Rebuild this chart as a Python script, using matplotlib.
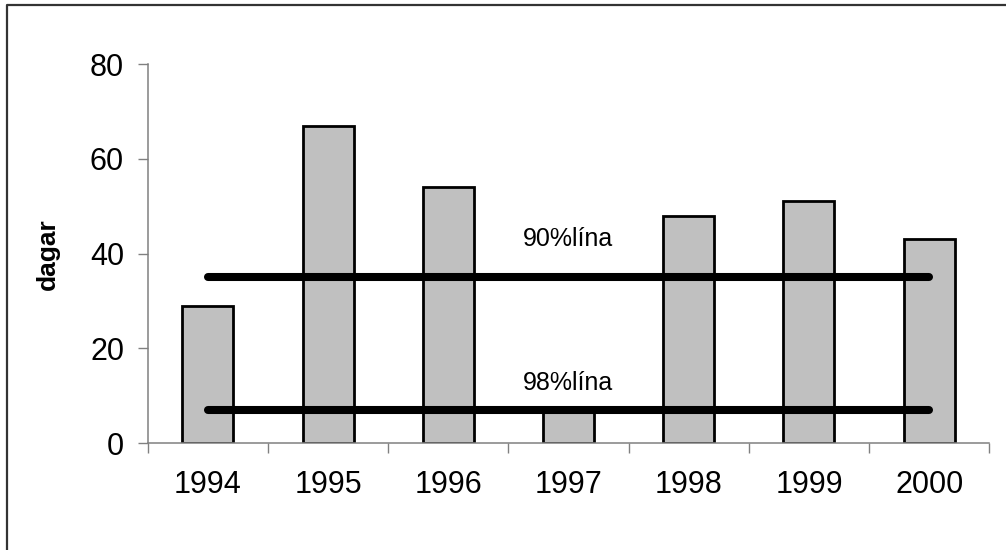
import matplotlib
matplotlib.use("Agg")
import matplotlib.pyplot as plt
from matplotlib.lines import Line2D

years = ["1994", "1995", "1996", "1997", "1998", "1999", "2000"]
dagar = [29, 67, 54, 7, 48, 51, 43]
line_labels = ["90%lína", "98%lína"]
line_values = [35, 7]
label_y = [43, 12.7]
yticks = [0, 20, 40, 60, 80]

plt.rcParams['font.family'] = ['Liberation Sans', 'DejaVu Sans']

W, H = 1006, 550
fig = plt.figure(figsize=(W / 100, H / 100), dpi=100)
ax = fig.add_axes([147.7 / W, 1 - 443.3 / H, (989.3 - 147.7) / W, (443.3 - 64) / H])

x = list(range(len(years)))
ax.bar(x, dagar, width=0.424, color="#C0C0C0", edgecolor="black", linewidth=2.0, zorder=2)

for v, lab, ly in zip(line_values, line_labels, label_y):
    ax.plot([x[0], x[-1]], [v, v], color="black", linewidth=5.8,
            solid_capstyle="round", zorder=3)
    ax.text(3, ly, lab, ha="center", va="center", fontsize=18, zorder=4)

ax.set_xlim(-0.5, len(years) - 0.5)
ax.set_ylim(0, 80)
ax.set_yticks(yticks)
ax.set_xticks([i - 0.5 for i in range(len(years) + 1)])
ax.set_xticklabels([])
ax.set_xticks(x, minor=True)
ax.set_xticklabels(years, minor=True, fontsize=22)
ax.tick_params(axis="x", which="minor", length=0, pad=19)
ax.tick_params(axis="x", which="major", length=7, width=1.0, color="#808080", direction="out")
ax.tick_params(axis="y", length=7, width=1.0, color="#808080", labelsize=22, pad=10)

for s in ["top", "right"]:
    ax.spines[s].set_visible(False)
for s in ["left", "bottom"]:
    ax.spines[s].set_color("#808080")
    ax.spines[s].set_linewidth(1.1)

ax.set_ylabel("dagar", fontsize=19, fontweight="bold")
ax.yaxis.set_label_coords(-0.104, 0.5)

# outer frame (top and left only visible)
fx = 7 / W
fy = 1 - 5 / H
fig.add_artist(Line2D([fx, fx, 1.0], [0.0, fy, fy], transform=fig.transFigure,
                      color="#333333", linewidth=1.6))

fig.savefig("out.png", dpi=100)
